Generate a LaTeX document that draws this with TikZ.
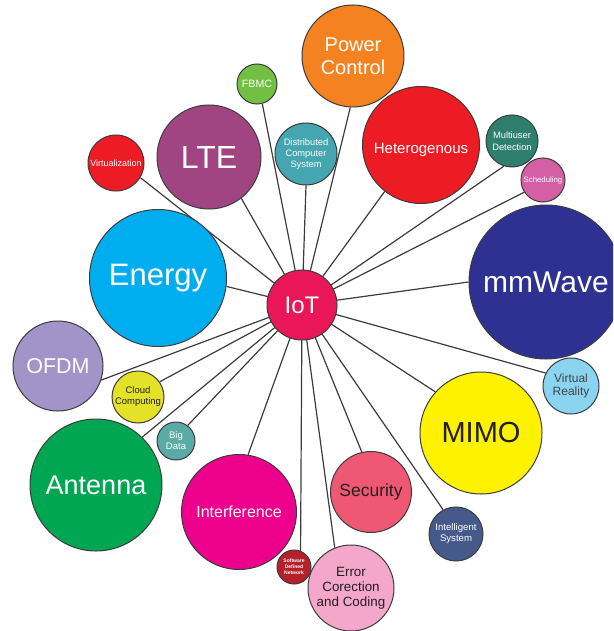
\documentclass[tikz,border=0pt]{standalone}
\usepackage{fontspec}
\setmainfont{Liberation Sans}
\usetikzlibrary{backgrounds}
\definecolor{cIoT}{RGB}{233,23,90}
\definecolor{cPower}{RGB}{245,130,32}
\definecolor{cFBMC}{RGB}{114,191,68}
\definecolor{cLTE}{RGB}{160,69,130}
\definecolor{cRed}{RGB}{237,28,36}
\definecolor{cDist}{RGB}{69,165,176}
\definecolor{cMulti}{RGB}{47,127,110}
\definecolor{cSched}{RGB}{213,95,165}
\definecolor{cEnergy}{RGB}{0,174,239}
\definecolor{cMmw}{RGB}{46,49,146}
\definecolor{cOFDM}{RGB}{162,148,200}
\definecolor{cCloud}{RGB}{228,226,40}
\definecolor{cVR}{RGB}{138,212,242}
\definecolor{cMIMO}{RGB}{255,242,0}
\definecolor{cBig}{RGB}{90,170,165}
\definecolor{cAnt}{RGB}{0,166,81}
\definecolor{cInter}{RGB}{236,0,140}
\definecolor{cSec}{RGB}{238,88,115}
\definecolor{cIntel}{RGB}{69,89,138}
\definecolor{cSDN}{RGB}{181,32,42}
\definecolor{cErr}{RGB}{244,167,203}
\definecolor{cLine}{RGB}{60,60,60}
\definecolor{cDark}{RGB}{35,31,32}
\begin{document}
\begin{tikzpicture}[x=1pt,y=-1pt,
  bub/.style={circle, draw=cLine, line width=1pt, inner sep=0pt, align=center, text=white},
  link/.style={draw=cLine, line width=1.2pt}]
\useasboundingbox (0,0) rectangle (613,631);
\clip (0,0) rectangle (613,631);
\node[bub, fill=cIoT, minimum size=70pt, font=\fontsize{24}{28}\selectfont] (iot) at (302,305) {IoT};
\node[bub, fill=cPower, minimum size=102pt, font=\fontsize{20}{23}\selectfont] (pc) at (353,56) {Power\\Control};
\node[bub, fill=cFBMC, minimum size=40pt, font=\fontsize{10.6}{12}\selectfont] (fbmc) at (257,84) {FBMC};
\node[bub, fill=cLTE, minimum size=104pt, font=\fontsize{32}{36}\selectfont] (lte) at (209,157) {LTE};
\node[bub, fill=cRed, minimum size=56pt, font=\fontsize{9}{11}\selectfont] (virt) at (116,163) {Virtualization};
\node[bub, fill=cDist, minimum size=62pt, font=\fontsize{9.3}{11}\selectfont] (dist) at (306,154) {Distributed\\Computer\\System};
\node[bub, fill=cRed, minimum size=117pt, font=\fontsize{15}{18}\selectfont] (het) at (421,145) {\raisebox{-5pt}[\height][\depth]{Heterogenous}};
\node[bub, fill=cMulti, minimum size=52pt, font=\fontsize{9.3}{12}\selectfont] (mud) at (512,141) {Multiuser\\Detection};
\node[bub, fill=cSched, minimum size=44pt, font=\fontsize{7.8}{9}\selectfont] (sch) at (543,180) {Scheduling};
\node[bub, fill=cEnergy, minimum size=137pt, font=\fontsize{31}{36}\selectfont] (en) at (158,278) {Energy};
\node[bub, fill=cMmw, minimum size=154pt, font=\fontsize{30}{34}\selectfont] (mmw) at (546,282) {mmWave};
\node[bub, fill=cOFDM, minimum size=90pt, font=\fontsize{21.5}{25}\selectfont] (ofdm) at (58,366) {OFDM};
\node[bub, fill=cCloud, minimum size=52pt, text=cDark, font=\fontsize{9.5}{11}\selectfont] (cloud) at (138,397) {Cloud\\Computing};
\node[bub, fill=cVR, minimum size=56pt, text=cDark!85, font=\fontsize{12}{13}\selectfont] (vr) at (571,386) {Virtual\\Reality};
\node[bub, fill=cMIMO, minimum size=122pt, text=cDark, font=\fontsize{29}{33}\selectfont] (mimo) at (481,433) {MIMO};
\node[bub, fill=cBig, minimum size=38pt, font=\fontsize{9.5}{11}\selectfont] (big) at (176,441) {Big\\Data};
\node[bub, fill=cAnt, minimum size=132pt, font=\fontsize{27}{31}\selectfont] (ant) at (96,485) {Antenna};
\node[bub, fill=cInter, minimum size=115pt, font=\fontsize{16}{19}\selectfont] (int) at (239,512) {Interference};
\node[bub, fill=cSec, minimum size=81pt, text=cDark, font=\fontsize{17.5}{20}\selectfont] (sec) at (371,492) {Security};
\node[bub, fill=cIntel, minimum size=54pt, font=\fontsize{9.6}{11}\selectfont] (intel) at (456,534) {Intelligent\\System};
\node[bub, fill=cSDN, minimum size=34pt, font=\bfseries\fontsize{5}{6}\selectfont] (sdn) at (294,567) {Software\\Defined\\Network};
\node[bub, fill=cErr, minimum size=86pt, text=cDark, font=\fontsize{13.4}{15}\selectfont] (err) at (351,588) {Error\\Corection\\and Coding};
\begin{pgfonlayer}{background}
\draw[link] (iot.center) -- (pc.-93);
\draw[link] (iot.center) -- (fbmc.-75);
\draw[link] (iot.center) -- (dist.-90);
\draw[link] (iot.center) -- (lte.-52);
\draw[link] (iot.center) -- (virt.-31);
\draw[link] (iot.center) -- (het.-128);
\draw[link] (iot.center) -- (mud.-108);
\draw[link] (iot.center) -- (sch.-147);
\draw[link] (iot.center) -- (mmw.180);
\draw[link] (iot.center) -- (vr.153);
\draw[link] (iot.center) -- (mimo.138);
\draw[link] (iot.center) -- (intel.118);
\draw[link] (iot.center) -- (sec.103);
\draw[link] (iot.center) -- (err.112);
\draw[link] (iot.center) -- (sdn.68);
\draw[link] (iot.center) -- (int.81);
\draw[link] (iot.center) -- (big.53);
\draw[link] (iot.center) -- (ant.46);
\draw[link] (iot.center) -- (cloud.35);
\draw[link] (iot.center) -- (ofdm.-18);
\draw[link] (iot.center) -- (en.-7);
\end{pgfonlayer}
\end{tikzpicture}
\end{document}
